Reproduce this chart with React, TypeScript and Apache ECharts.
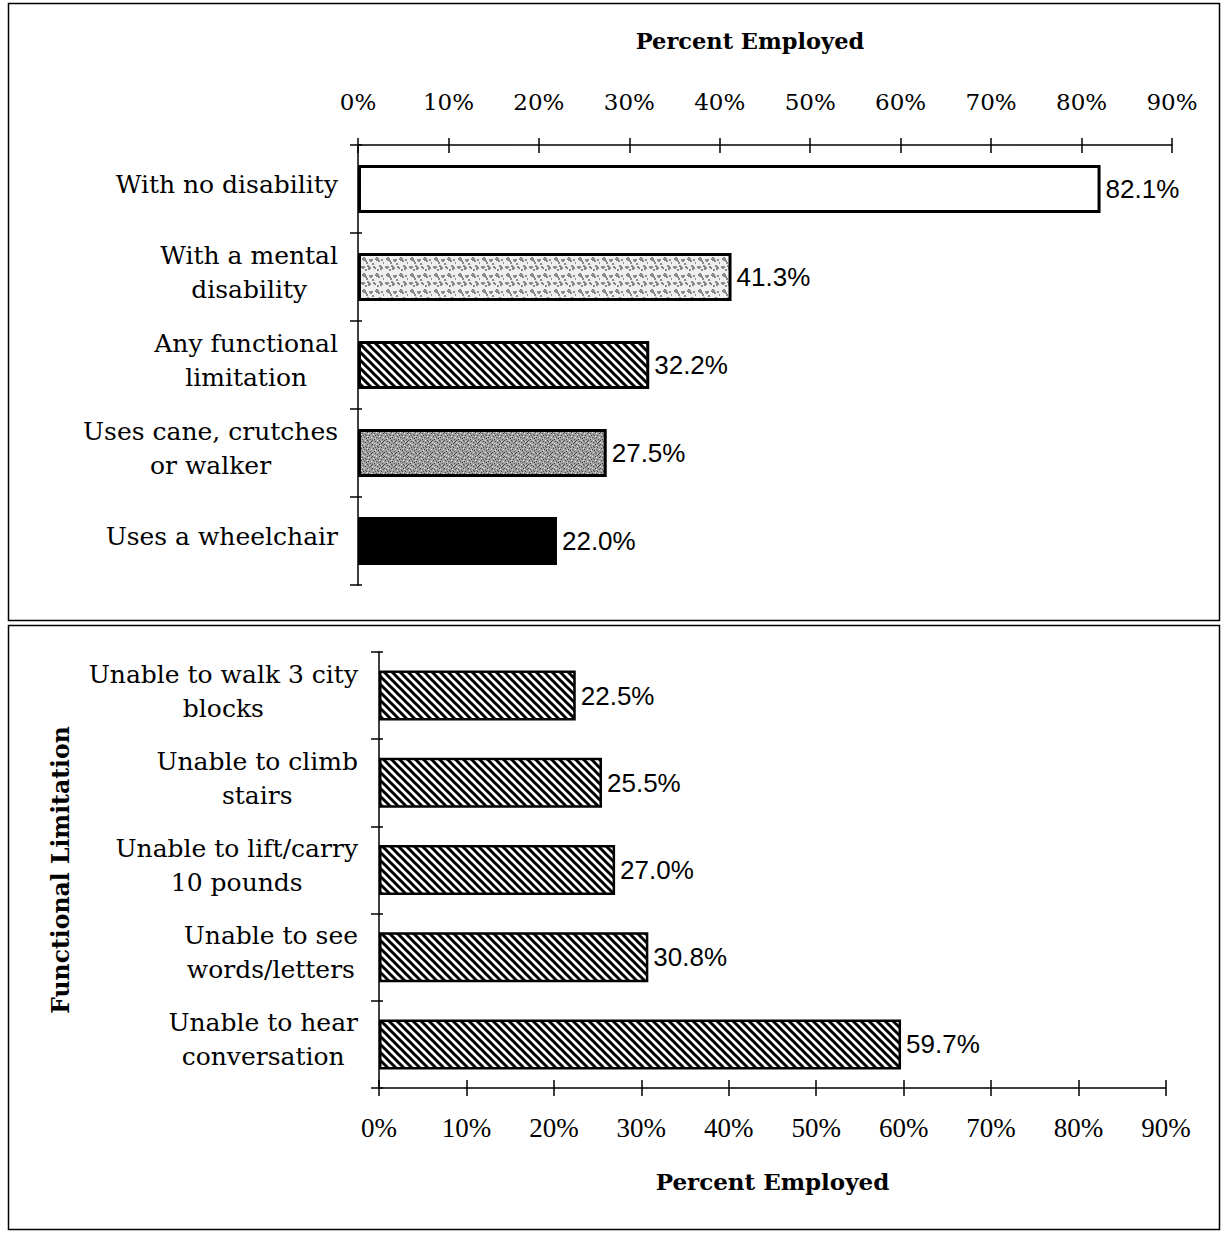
import React, { useEffect, useRef } from "react";
import * as echarts from "echarts";

const topCategories = [
  "With no disability",
  "With a mental\ndisability",
  "Any functional\nlimitation",
  "Uses cane, crutches\nor walker",
  "Uses a wheelchair",
];
const topValues = [82.1, 41.3, 32.2, 27.5, 22.0];
const topFills = ["white", "mental", "hatch", "cane", "black"];

const bottomCategories = [
  "Unable to walk 3 city\nblocks",
  "Unable to climb\nstairs",
  "Unable to lift/carry\n10 pounds",
  "Unable to see\nwords/letters",
  "Unable to hear\nconversation",
];
const bottomValues = [22.5, 25.5, 27.0, 30.8, 59.7];

const axisMin = 0;
const axisMax = 90;
const axisStep = 10;

const SERIF = "DejaVu Serif";

function makeHatch() {
  const c = document.createElement("canvas");
  c.width = 8;
  c.height = 8;
  const g = c.getContext("2d")!;
  g.fillStyle = "#fff";
  g.fillRect(0, 0, 8, 8);
  g.strokeStyle = "#000";
  g.lineWidth = 3;
  for (let k = -1; k <= 1; k++) {
    g.beginPath();
    g.moveTo(k * 8 - 2, -2);
    g.lineTo(k * 8 + 10, 10);
    g.stroke();
  }
  return c;
}

function makeStipple(
  w: number,
  h: number,
  base: string,
  dark: string,
  darkPts: number[][],
  light: string,
  lightPts: number[][],
  dotSize: number
) {
  const c = document.createElement("canvas");
  c.width = w;
  c.height = h;
  const g = c.getContext("2d")!;
  g.fillStyle = base;
  g.fillRect(0, 0, w, h);
  g.fillStyle = dark;
  darkPts.forEach(([x, y]) => g.fillRect(x, y, dotSize, dotSize));
  g.fillStyle = light;
  lightPts.forEach(([x, y]) => g.fillRect(x, y, 1, 1));
  return c;
}

function pattern(canvas: HTMLCanvasElement) {
  return {
    image: canvas,
    repeat: "repeat",
    imageWidth: canvas.width,
    imageHeight: canvas.height,
  } as any;
}

function richLabel(v: string) {
  return v
    .split("\n")
    .map((l) => `{c|${l}}`)
    .join("\n");
}

export default function App() {
  const ref = useRef<HTMLDivElement>(null);

  useEffect(() => {
    if (!ref.current) return;
    const chart = echarts.init(ref.current, undefined, { renderer: "svg" });

    const hatch = pattern(makeHatch());
    const mental = pattern(
      makeStipple(
        24,
        16,
        "#eeeeee",
        "#8a8a8a",
        [
          [2, 2], [3, 3], [4, 2], [3, 1], [5, 4], [9, 3], [10, 4], [11, 3], [15, 2], [16, 3], [17, 2], [16, 1],
          [18, 4], [21, 3], [1, 10], [2, 11], [3, 10], [7, 9], [8, 10], [9, 11], [8, 12], [13, 10], [14, 11],
          [19, 9], [20, 10], [21, 11], [20, 12], [6, 6], [12, 7], [23, 6], [5, 13], [17, 13],
        ],
        "#ffffff",
        [[0, 5], [7, 1], [13, 5], [22, 14], [11, 14], [4, 7]],
        2
      )
    );
    const cane = pattern(
      makeStipple(
        12,
        12,
        "#a0a0a0",
        "#484848",
        [[0, 0], [2, 1], [5, 2], [7, 0], [9, 3], [11, 1], [1, 4], [4, 5], [6, 6], [8, 5], [10, 7], [0, 8], [3, 9], [5, 10], [7, 8], [9, 11], [11, 9], [2, 7], [6, 3], [10, 10], [3, 3], [8, 9]],
        "#e6e6e6",
        [[1, 2], [4, 0], [8, 1], [3, 6], [7, 4], [11, 5], [0, 10], [5, 8], [9, 9], [2, 11]],
        1
      )
    );

    const fillFor = (k: string) => {
      if (k === "white") return "#ffffff";
      if (k === "black") return "#000000";
      if (k === "hatch") return hatch;
      if (k === "mental") return mental;
      return cane;
    };

    const catLabel = {
      color: "#000",
      fontFamily: SERIF,
      fontSize: 25,
      lineHeight: 34,
      padding: [0, 0, 9, 0],
      formatter: richLabel,
      rich: { c: { align: "center", fontFamily: SERIF, fontSize: 25, lineHeight: 34, color: "#000" } },
    };

    const blackLine = { show: true, lineStyle: { color: "#000", width: 1.5 } };
    const tickStyle = { color: "#000", width: 1.5 };

    const valueLabel = {
      show: true,
      position: "right",
      distance: 5,
      formatter: (p: any) => p.value.toFixed(1) + "%",
      color: "#000",
      fontFamily: "Liberation Sans",
      fontSize: 26,
    };

    const option: any = {
      animation: false,
      backgroundColor: "#ffffff",
      grid: [
        { left: 358, top: 145, width: 814, height: 440 },
        { left: 379, top: 652, width: 787, height: 436 },
      ],
      xAxis: [
        {
          gridIndex: 0,
          type: "value",
          position: "top",
          min: axisMin,
          max: axisMax,
          interval: axisStep,
          axisLine: blackLine,
          axisTick: { show: true, inside: false, length: 7, lineStyle: tickStyle },
          axisLabel: { formatter: "{value}%", margin: 32, color: "#000", fontFamily: SERIF, fontSize: 23 },
          splitLine: { show: false },
          name: "Percent Employed",
          nameLocation: "middle",
          nameGap: 93,
          nameTextStyle: {
            color: "#000",
            fontFamily: SERIF,
            fontWeight: "bold",
            fontSize: 22.5,
            padding: [0, 30, 0, 0],
          },
        },
        {
          gridIndex: 0,
          type: "value",
          position: "top",
          min: axisMin,
          max: axisMax,
          interval: axisStep,
          axisLine: { show: false },
          axisTick: { show: true, inside: true, length: 8, lineStyle: tickStyle },
          axisLabel: { show: false },
          splitLine: { show: false },
        },
        {
          gridIndex: 1,
          type: "value",
          position: "bottom",
          min: axisMin,
          max: axisMax,
          interval: axisStep,
          axisLine: blackLine,
          axisTick: { show: true, inside: false, length: 8, lineStyle: tickStyle },
          axisLabel: { formatter: "{value}%", margin: 26, color: "#000", fontFamily: "Liberation Serif", fontSize: 27 },
          splitLine: { show: false },
          name: "Percent Employed",
          nameLocation: "middle",
          nameGap: 82,
          nameTextStyle: { color: "#000", fontFamily: SERIF, fontWeight: "bold", fontSize: 23 },
        },
        {
          gridIndex: 1,
          type: "value",
          position: "bottom",
          min: axisMin,
          max: axisMax,
          interval: axisStep,
          axisLine: { show: false },
          axisTick: { show: true, inside: true, length: 8, lineStyle: tickStyle },
          axisLabel: { show: false },
          splitLine: { show: false },
        },
      ],
      yAxis: [
        {
          gridIndex: 0,
          type: "category",
          inverse: true,
          position: "left",
          data: topCategories,
          axisLine: blackLine,
          axisTick: { show: true, inside: false, length: 8, lineStyle: tickStyle },
          axisLabel: { ...catLabel, margin: 20 },
        },
        {
          gridIndex: 0,
          type: "category",
          inverse: true,
          position: "left",
          data: topCategories,
          axisLine: { show: false },
          axisTick: { show: true, inside: true, length: 4, lineStyle: tickStyle },
          axisLabel: { show: false },
        },
        {
          gridIndex: 1,
          type: "category",
          inverse: true,
          position: "left",
          data: bottomCategories,
          axisLine: blackLine,
          axisTick: { show: true, inside: false, length: 8, lineStyle: tickStyle },
          axisLabel: { ...catLabel, margin: 21 },
          name: "Functional Limitation",
          nameLocation: "middle",
          nameGap: 306,
          nameTextStyle: { color: "#000", fontFamily: SERIF, fontWeight: "bold", fontSize: 23.5 },
        },
        {
          gridIndex: 1,
          type: "category",
          inverse: true,
          position: "left",
          data: bottomCategories,
          axisLine: { show: false },
          axisTick: { show: true, inside: true, length: 4, lineStyle: tickStyle },
          axisLabel: { show: false },
        },
      ],
      series: [
        {
          type: "bar",
          xAxisIndex: 0,
          yAxisIndex: 0,
          barWidth: 48,
          data: topValues.map((v, i) => ({
            value: v,
            itemStyle: {
              color: fillFor(topFills[i]),
              borderColor: "#000",
              borderWidth: topFills[i] === "black" ? 0 : 3,
            },
          })),
          label: valueLabel,
        },
        {
          type: "bar",
          xAxisIndex: 2,
          yAxisIndex: 2,
          barWidth: 50,
          data: bottomValues.map((v) => ({
            value: v,
            itemStyle: { color: hatch, borderColor: "#000", borderWidth: 2.5 },
          })),
          label: valueLabel,
        },
      ],
      graphic: [
        {
          type: "rect",
          shape: { x: 8.5, y: 3.5, width: 1211, height: 617 },
          style: { fill: "none", stroke: "#000", lineWidth: 1.5 },
          silent: true,
        },
        {
          type: "rect",
          shape: { x: 8.5, y: 625.5, width: 1211, height: 604 },
          style: { fill: "none", stroke: "#000", lineWidth: 1.5 },
          silent: true,
        },
      ],
    };

    chart.setOption(option);
    return () => chart.dispose();
  }, []);

  return (
    <div
      ref={ref}
      style={{ position: "absolute", left: 0, top: 0, width: 1221, height: 1233 }}
    />
  );
}
